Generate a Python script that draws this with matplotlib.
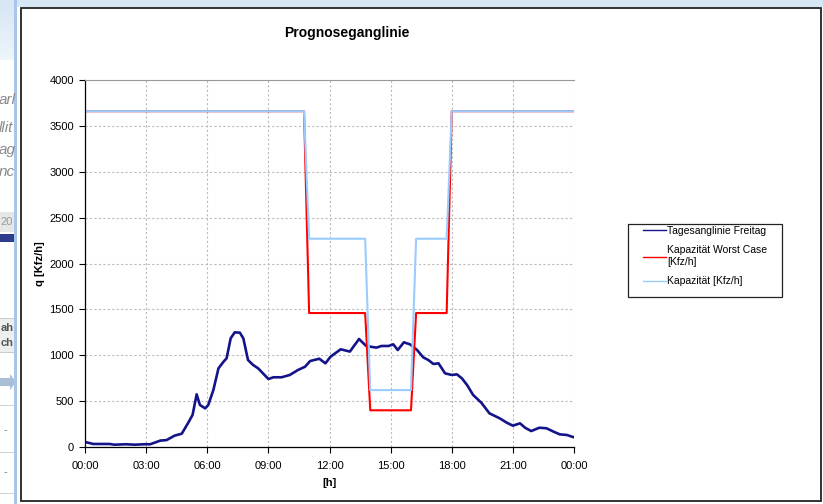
import numpy as np
import matplotlib
matplotlib.use('Agg')
import matplotlib.pyplot as plt
from matplotlib.patches import Rectangle, FancyArrow

plt.rcParams['font.family'] = ['Liberation Sans', 'DejaVu Sans']

# time of day in hours
t_day = [0, 0.4, 1.2, 1.45, 2.0, 2.45, 2.9, 3.2, 3.7, 4.0, 4.4, 4.75, 5.05, 5.28,
         5.48, 5.64, 5.9, 6.05, 6.3, 6.55, 6.8, 6.95, 7.15, 7.35, 7.6, 7.77, 8.0,
         8.25, 8.5, 9.0, 9.25, 9.65, 10.05, 10.45, 10.8, 11.05, 11.5, 11.8, 12.05,
         12.55, 13.0, 13.45, 13.8, 14.3, 14.55, 14.9, 15.13, 15.35, 15.65, 15.95,
         16.3, 16.6, 16.85, 17.1, 17.35, 17.67, 18.0, 18.25, 18.5, 18.75, 19.05,
         19.45, 19.85, 20.35, 20.7, 21.0, 21.35, 21.6, 21.9, 22.3, 22.65, 23.0,
         23.3, 23.65, 23.95]
q_freitag = [55, 33, 33, 25, 30, 25, 30, 30, 70, 75, 124, 145, 258, 350,
             574, 458, 421, 458, 621, 857, 930, 967, 1185, 1250, 1246, 1185, 948,
             894, 857, 741, 760, 760, 785, 839, 875, 937, 962, 912, 984,
             1065, 1040, 1177, 1101, 1083, 1101, 1101, 1119, 1057, 1141, 1119,
             1057, 977, 948, 905, 912, 803, 785, 792, 748, 676, 567,
             483, 367, 313, 265, 232, 258, 210, 174, 210, 204, 167,
             138, 131, 109]

t_cap = [0, 10.75, 11, 13.75, 14, 16, 16.25, 17.75, 18, 24]
cap_worst = [3660, 3660, 1460, 1460, 400, 400, 1460, 1460, 3660, 3660]
cap = [3660, 3660, 2270, 2270, 620, 620, 2270, 2270, 3660, 3660]

xticks = [0, 3, 6, 9, 12, 15, 18, 21, 24]
xlabels = ['00:00', '03:00', '06:00', '09:00', '12:00', '15:00', '18:00', '21:00', '00:00']

W, H = 823, 504
fig = plt.figure(figsize=(W / 100, H / 100), dpi=100)

# background page strip on the left (pixel coordinates)
bg = fig.add_axes([0, 0, 1, 1])
bg.set_xlim(0, W)
bg.set_ylim(H, 0)
bg.axis('off')
grad = np.linspace(0, 1, 60).reshape(-1, 1)
bg.imshow(grad, extent=[0, W, 60, 0], cmap=matplotlib.colors.LinearSegmentedColormap.from_list(
    'sky', ['#d6e6f5', '#eef5fb']), aspect='auto')
bg.add_patch(Rectangle((0, 60), 14, H, color='white', lw=0))
bg.add_patch(Rectangle((0, 212), 14, 20, color='#e6e6e6', lw=0))
bg.add_patch(Rectangle((0, 234), 14, 8, color='#2e3d8c', lw=0))
bg.add_patch(Rectangle((0, 318), 14, 34, color='#eeeeee', lw=0))
bg.add_patch(Rectangle((0, 318), 14, 1, color='#cccccc', lw=0))
bg.add_patch(Rectangle((0, 352), 14, 1, color='#cccccc', lw=0))
bg.add_patch(Rectangle((0, 405), 14, 1, color='#d0d0d0', lw=0))
bg.add_patch(Rectangle((0, 452), 14, 1, color='#d0d0d0', lw=0))
bg.add_patch(Rectangle((0, 493), 14, 1, color='#d0d0d0', lw=0))
bg.add_patch(FancyArrow(-4, 382, 14, 0, width=8, head_width=16, head_length=6,
                        color='#a9bfd8', lw=0))
for txt, y in [('arl', 100), ('llit', 128), ('ag', 150), ('nc', 172)]:
    bg.text(-1, y, txt, fontsize=11, style='italic', color='#8a8a8a', va='center',
            clip_on=True)
bg.text(0.5, 222, '20', fontsize=8, color='#9a9a9a', va='center')
bg.text(0.5, 328, 'ah', fontsize=8, weight='bold', color='#555555', va='center')
bg.text(0.5, 343, 'ch', fontsize=8, weight='bold', color='#555555', va='center')
bg.text(4, 430, '-', fontsize=8, color='#777777', va='center')
bg.text(4, 472, '-', fontsize=8, color='#777777', va='center')
bg.add_patch(Rectangle((14, 0), 3, H, color='#a9c6ea', lw=0))
bg.add_patch(Rectangle((17, 7), W - 17, H, color='white', lw=0))
bg.add_patch(Rectangle((21, 8), 800, 493, fill=False, ec='#222222', lw=1.3))
# legend frame
bg.add_patch(Rectangle((628, 224), 154, 73, fill=False, ec='#222222', lw=0.9))
for patch in bg.patches:
    patch.set_clip_on(False)

# chart
ax = fig.add_axes([85 / W, 1 - 447 / H, 489 / W, 367 / H])
ax.plot(t_day, q_freitag, color='#14148a', lw=1.9, solid_joinstyle='round',
        label='Tagesanglinie Freitag')
ax.plot(t_cap, cap_worst, color='#ff0000', lw=1.5, label='Kapazität Worst Case\n[Kfz/h]')
ax.plot(t_cap, cap, color='#99ccff', lw=1.5, label='Kapazität [Kfz/h]')

ax.set_xlim(0, 24)
ax.set_ylim(0, 4000)
ax.set_xticks(xticks)
ax.set_xticklabels(xlabels)
ax.set_yticks(range(0, 4001, 500))
ax.tick_params(labelsize=8, length=4, width=0.8, colors='black', pad=4)
ax.tick_params(axis='x', pad=6)
ax.grid(True, color='#bbbbbb', ls=(0, (2, 2)), lw=0.8)
ax.spines['right'].set_visible(False)
ax.spines['top'].set_color('#999999')
ax.spines['left'].set_linewidth(0.9)
ax.spines['bottom'].set_linewidth(0.9)

ax.set_xlabel('[h]', fontsize=8, weight='bold', labelpad=5)
ax.set_ylabel('q [Kfz/h]', fontsize=8, weight='bold', labelpad=3)
fig.text(347 / W, 1 - 33 / H, 'Prognoseganglinie', fontsize=10, weight='bold',
         ha='center', va='center')

leg = fig.legend(loc='upper left', bbox_to_anchor=(643 / W, 1 - 226 / H),
                 fontsize=7.5, frameon=False, handlelength=2.2,
                 handletextpad=0.1, borderpad=0, borderaxespad=0,
                 labelspacing=0.9)
for line in leg.get_lines():
    line.set_linewidth(1.0)

fig.savefig('out.png', dpi=100)
